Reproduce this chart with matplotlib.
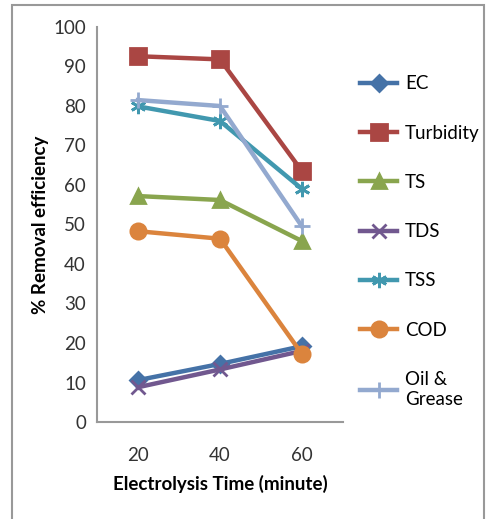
import matplotlib.pyplot as plt
from matplotlib.patches import Rectangle

times = ["20", "40", "60"]
series = ["EC", "Turbidity", "TS", "TDS", "TSS", "COD", "Oil &\nGrease"]
ec = [10.6, 14.7, 19.2]
turbidity = [92.6, 91.8, 63.5]
ts = [57.2, 56.2, 45.8]
tds = [8.8, 13.3, 18.0]
tss = [79.9, 76.2, 59.0]
cod = [48.3, 46.4, 17.2]
oil_grease = [81.5, 80.0, 49.5]

values = [ec, turbidity, ts, tds, tss, cod, oil_grease]
colors = ["#4572A7", "#AA4643", "#89A54E", "#71588F", "#4198AF", "#DB843D", "#93A9CF"]
markers = ["D", "s", "^", "x", (6, 2, 0), "o", "+"]
msizes = [8, 11, 10, 10, 11, 11, 11]

plt.rcParams["font.family"] = ["Lato", "DejaVu Sans"]

fig = plt.figure(figsize=(4.86, 5.19), dpi=100)
ax = fig.add_axes([97 / 486, 1 - 422 / 519, 246 / 486, 395 / 519])

x = range(len(times))
for vals, name, c, m, ms in zip(values, series, colors, markers, msizes):
    ax.plot(x, vals, color=c, lw=3.2, marker=m, markersize=ms,
            markeredgewidth=2, markerfacecolor=c, markeredgecolor=c, label=name)

ax.set_xlim(-0.5, 2.5)
ax.set_ylim(0, 100)
ax.set_yticks(range(0, 101, 10))
ax.set_xticks(list(x))
ax.set_xticklabels(times)
ax.tick_params(length=0, labelsize=13.5, colors="#333333", pad=8)
ax.tick_params(axis="x", pad=18)
for s in ["top", "right"]:
    ax.spines[s].set_visible(False)
for s in ["left", "bottom"]:
    ax.spines[s].set_color("#999999")
    ax.spines[s].set_linewidth(1.5)

ax.set_ylabel("% Removal efficiency", fontsize=13.5, fontweight="bold", labelpad=3)
ax.set_xlabel("Electrolysis Time (minute)", fontsize=13.5, fontweight="bold", labelpad=8)

ax.legend(loc="upper left", bbox_to_anchor=(1.0, 0.92), frameon=False,
          fontsize=13.5, labelspacing=1.72, handlelength=2.0, handletextpad=0.4)

fig.patches.append(Rectangle((12 / 486, -0.1), 472 / 486, 1.1 - 5 / 519,
                             transform=fig.transFigure, fill=False,
                             edgecolor="#999999", lw=1.5))

fig.savefig("out.png", dpi=100)
